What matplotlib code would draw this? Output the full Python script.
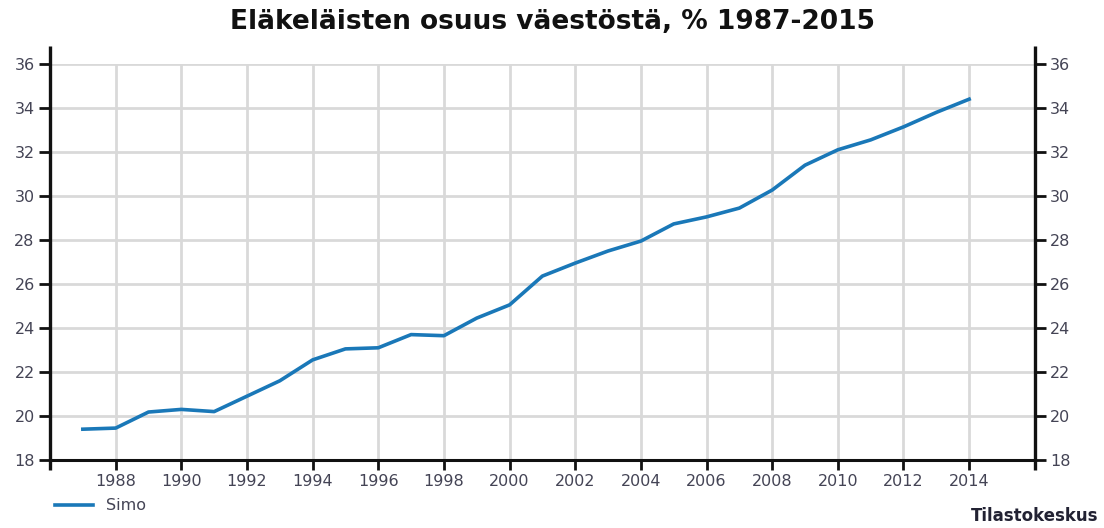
import matplotlib.pyplot as plt

# Eläkeläisten osuus väestöstä, %
years = list(range(1987, 2015))
share = [19.4, 19.45, 20.18, 20.3, 20.2, 20.9, 21.6, 22.55, 23.05, 23.1,
         23.7, 23.65, 24.45, 25.05, 26.36, 26.95, 27.5, 27.95, 28.73, 29.05,
         29.45, 30.27, 31.4, 32.1, 32.55, 33.14, 33.8, 34.4]
xticks = list(range(1988, 2015, 2))
yticks = list(range(18, 37, 2))

plt.rcParams['font.family'] = ['DejaVu Sans']

fig = plt.figure(figsize=(11.04, 5.28), dpi=100)
ax = fig.add_axes([0.0453, 0.1288, 0.892, 0.75])

ax.plot(years, share, color='#1a78b8', lw=2.6, label='Simo', zorder=3)

ax.set_xlim(1986, 2016)
ax.set_ylim(18, 36)
ax.set_xticks(xticks)
ax.set_yticks(yticks)

ax.grid(True, color='#d9d9d9', lw=2)
ax.set_axisbelow(True)

# side axes run a bit past the plot area, like the original
for s in ['left', 'right', 'top']:
    ax.spines[s].set_visible(False)
ax.spines['bottom'].set_linewidth(2.2)
ax.spines['bottom'].set_color('#111111')
for xa in [0, 1]:
    ax.plot([xa, xa], [-0.025, 1.045], transform=ax.transAxes, color='#111111',
            lw=2.4, clip_on=False, zorder=4, solid_capstyle='butt')

ax.tick_params(axis='x', direction='out', length=7, width=2, colors='#111111',
               labelcolor='#444455', labelsize=11.5, pad=3)
ax.tick_params(axis='y', direction='out', length=8, width=2, colors='#111111',
               labelcolor='#444455', labelsize=11.5, left=True, right=True,
               labelleft=True, labelright=True, pad=3)

fig.text(0.5, 0.958, 'Eläkeläisten osuus väestöstä, % 1987-2015', ha='center',
         va='center', fontsize=19, fontweight='bold', color='#111111')

leg = ax.legend(loc='upper left', bbox_to_anchor=(-0.01, -0.06), frameon=False,
                fontsize=11.5, handlelength=2.4, labelcolor='#444455')

fig.text(0.995, 0.006, 'Tilastokeskus', ha='right', va='bottom', fontsize=12,
         fontweight='bold', color='#222233')

fig.savefig('out.png', dpi=100)
